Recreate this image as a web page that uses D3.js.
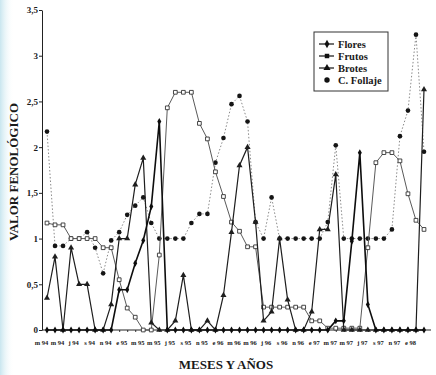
<!DOCTYPE html>
<html>
<head>
<meta charset="utf-8">
<script src="https://cdn.jsdelivr.net/npm/d3@7"></script>
<style>
  body { margin: 0; background: #fff; }
  svg { display: block; }
  text { font-family: "Liberation Serif", "DejaVu Serif", serif; font-weight: bold; fill: #1a1a1a; }
</style>
</head>
<body>
<div id="chart"></div>
<script>
// meses de marzo 94 a febrero 98
const meses = [
  "mar 94","abr 94","may 94","jun 94","jul 94","ago 94","sep 94","oct 94","nov 94","dic 94",
  "ene 95","feb 95","mar 95","abr 95","may 95","jun 95","jul 95","ago 95","sep 95","oct 95","nov 95","dic 95",
  "ene 96","feb 96","mar 96","abr 96","may 96","jun 96","jul 96","ago 96","sep 96","oct 96","nov 96","dic 96",
  "ene 97","feb 97","mar 97","abr 97","may 97","jun 97","jul 97","ago 97","sep 97","oct 97","nov 97","dic 97",
  "ene 98","feb 98"
];
// etiquetas del eje (cada dos meses)
const etiquetas = ["m 94","m 94","j 94","s 94","n 94","e 95","m 95","m 95","j 95","s 95","n 95","e 96",
  "m 96","m 96","j 96","s 96","n 96","e 97","m 97","m 97","j 97","s 97","n 97","e 98"];
const yTicks = [0, 0.5, 1, 1.5, 2, 2.5, 3, 3.5];

const flores = [0,0,0,0,0,0,0,0,0,0.44,0.44,0.73,0.98,1.35,2.28,0,
  0,0,0,0,0,0,0,0,0,0,0,0,0,0,0,0,0,0,0,0,
  0.1,0.1,0.97,1.94,0.28,0,0,0,0,0,0,0];
const frutos = [1.17,1.15,1.15,1.0,1.0,1.0,1.0,0.9,0.9,0.55,
  0.24,0.14,0,0,0.82,2.43,2.6,2.6,2.6,2.26,
  2.09,1.73,1.46,1.18,1.08,0.91,0.91,0.25,0.25,0.25,
  0.25,0.25,0.25,0.1,0.1,0.02,0.02,0.02,0.02,0.02,
  0.9,1.83,1.94,1.94,1.85,1.49,1.2,1.1];
const brotes = [0.35,0.8,0,0.9,0.5,0.5,0,0,0.28,1.0,
  1.0,1.59,1.88,0.08,0,0,0.1,0.6,0,0,
  0.1,0,0.38,1.07,1.8,2.0,1.18,0.1,0.2,1.0,
  0.33,0,0,0.2,1.1,1.1,1.7,0,0,0,
  0,0,0,0,0,0,0,2.63];
const follaje = [2.17,0.92,0.92,1.0,1.0,1.07,0.9,0.62,0.98,1.07,
  1.26,1.36,1.45,1.17,1.0,1.0,1.0,1.0,1.17,1.27,
  1.27,1.83,2.1,2.47,2.56,2.28,1.18,1.0,1.45,1.0,
  1.0,1.0,1.0,1.0,1.0,1.18,2.02,1.0,1.0,1.0,
  1.0,1.0,1.0,1.1,2.12,2.4,3.23,1.95];

const series = [
  { nombre: "C. Follaje", valores: follaje, color: "#8a8a8a", ancho: 1, dash: "1.5,2", simbolo: d3.symbolCircle, tam: 17, relleno: "#151515" },
  { nombre: "Frutos", valores: frutos, color: "#5a5a5a", ancho: 1, dash: null, simbolo: d3.symbolSquare, tam: 14, relleno: "#fff" },
  { nombre: "Brotes", valores: brotes, color: "#1e1e1e", ancho: 1.2, dash: null, simbolo: d3.symbolTriangle, tam: 16, relleno: "#1e1e1e" },
  { nombre: "Flores", valores: flores, color: "#0d0d0d", ancho: 1.6, dash: null, simbolo: d3.symbolDiamond, tam: 14, relleno: "#0d0d0d" }
];

const W = 436, H = 375;
const svg = d3.select("#chart").append("svg").attr("width", W).attr("height", H);

// tinte del escaneo a la izquierda
const grad = svg.append("defs").append("linearGradient").attr("id", "tinte");
grad.append("stop").attr("offset", "0%").attr("stop-color", "#c9e6ef");
grad.append("stop").attr("offset", "100%").attr("stop-color", "#ffffff").attr("stop-opacity", 0);
svg.append("rect").attr("width", 14).attr("height", H).attr("fill", "url(#tinte)");

const x = d3.scalePoint().domain(meses).range([47, 424]);
const y = d3.scaleLinear().domain([0, 3.5]).range([330, 10]);

// eje Y
const ejeY = svg.append("g")
  .attr("transform", "translate(42,0)")
  .call(d3.axisLeft(y).tickValues(yTicks).tickSize(3).tickSizeOuter(0)
    .tickFormat(d => String(d).replace(".", ",")));
ejeY.select(".domain").attr("stroke", "#222");
ejeY.selectAll(".tick line").attr("stroke", "#222");
ejeY.selectAll("text").attr("font-size", 9).attr("x", -4)
  .style("font-family", '"Liberation Serif", serif').style("font-weight", "bold").attr("fill", "#1a1a1a");

// eje X
const ejeX = svg.append("g")
  .attr("transform", "translate(0,330)")
  .call(d3.axisBottom(x).tickSize(2).tickSizeOuter(0)
    .tickFormat((d, i) => i % 2 === 0 ? etiquetas[i / 2] : ""));
ejeX.select(".domain").remove();
ejeX.selectAll(".tick line").attr("stroke", "#333");
ejeX.selectAll("text").attr("font-size", 6.5).attr("y", 10).attr("dx", -6)
  .style("font-family", '"Liberation Serif", serif').style("font-weight", "bold").attr("fill", "#333");
svg.append("line").attr("x1", 42).attr("x2", 431).attr("y1", 330).attr("y2", 330)
  .attr("stroke", "#222").attr("stroke-width", 1);

// líneas y marcadores
const linea = d3.line().x((d, i) => x(meses[i])).y(d => y(d));
series.forEach(s => {
  svg.append("path")
    .datum(s.valores)
    .attr("d", linea)
    .attr("fill", "none")
    .attr("stroke", s.color)
    .attr("stroke-width", s.ancho)
    .attr("stroke-dasharray", s.dash);
  svg.append("g").selectAll("path")
    .data(s.valores)
    .join("path")
    .attr("transform", (d, i) => `translate(${x(meses[i])},${y(d)})`)
    .attr("d", d3.symbol().type(s.simbolo).size(s.tam))
    .attr("fill", s.relleno)
    .attr("stroke", s.nombre === "Frutos" ? "#333" : "none")
    .attr("stroke-width", 0.9);
});

// títulos de ejes
svg.append("text")
  .attr("transform", "translate(18,172) rotate(-90)")
  .attr("text-anchor", "middle")
  .attr("font-size", 13)
  .text("VALOR FENOLÓGICO");
svg.append("text")
  .attr("x", 226).attr("y", 369)
  .attr("text-anchor", "middle")
  .attr("font-size", 13)
  .text("MESES Y AÑOS");

// leyenda
const orden = ["Flores", "Frutos", "Brotes", "C. Follaje"];
const leyY = [44, 56, 68, 80];
const ley = svg.append("g");
ley.append("rect").attr("x", 314).attr("y", 32).attr("width", 74).attr("height", 59)
  .attr("fill", "#fff").attr("stroke", "#333").attr("stroke-width", 1);
orden.forEach((nombre, k) => {
  const s = series.find(t => t.nombre === nombre);
  const g = ley.append("g").attr("transform", `translate(0,${leyY[k]})`);
  if (nombre !== "C. Follaje") {
    g.append("line").attr("x1", 319).attr("x2", 334).attr("y1", 0).attr("y2", 0)
      .attr("stroke", "#111").attr("stroke-width", 1.2);
  }
  g.append("path").attr("transform", "translate(327,0)")
    .attr("d", d3.symbol().type(s.simbolo).size(s.tam + 6))
    .attr("fill", "#111");
  g.append("text").attr("x", 338).attr("y", 3.5).attr("font-size", 10.5).text(nombre);
});
</script>
</body>
</html>
